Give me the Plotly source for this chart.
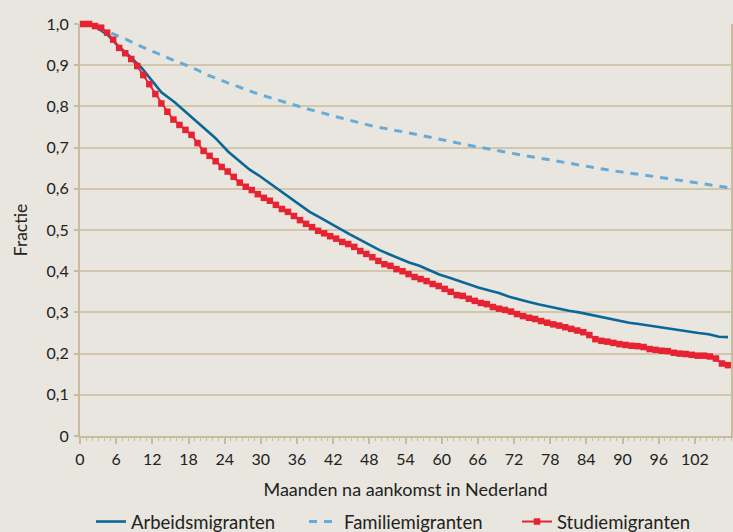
import plotly.graph_objects as go

# ---- data ----
studie_months = [k + 0.5 for k in range(108)]
studie_values = [
    1.000, 1.000, 0.995, 0.991, 0.979, 0.962, 0.942, 0.929, 0.915, 0.898,
    0.876, 0.854, 0.830, 0.807, 0.787, 0.768, 0.755, 0.743, 0.731, 0.711,
    0.692, 0.680, 0.667, 0.653, 0.642, 0.629, 0.615, 0.605, 0.597, 0.587,
    0.578, 0.571, 0.561, 0.551, 0.544, 0.534, 0.524, 0.515, 0.507, 0.498,
    0.492, 0.485, 0.479, 0.471, 0.466, 0.459, 0.449, 0.442, 0.434, 0.425,
    0.417, 0.413, 0.405, 0.400, 0.393, 0.386, 0.381, 0.376, 0.369, 0.364,
    0.357, 0.350, 0.342, 0.340, 0.333, 0.328, 0.323, 0.320, 0.313, 0.309,
    0.306, 0.302, 0.296, 0.291, 0.287, 0.284, 0.279, 0.275, 0.271, 0.268,
    0.264, 0.260, 0.256, 0.252, 0.245, 0.235, 0.231, 0.229, 0.226, 0.223,
    0.221, 0.219, 0.218, 0.216, 0.211, 0.209, 0.207, 0.206, 0.202, 0.200,
    0.199, 0.197, 0.195, 0.195, 0.193, 0.188, 0.176, 0.172,
]

arbeids_months = [
    0.5, 1.5, 2.5, 4.7, 6.3, 8.0, 10.2, 11.9, 13.5, 15.7, 18.5, 20.1, 22.4,
    24.6, 26.5, 28.1, 29.8, 31.5, 33.1, 34.8, 36.4, 38.1, 39.7, 41.4, 43.0,
    44.7, 46.4, 48.0, 49.7, 51.3, 53.0, 54.6, 56.3, 57.9, 59.6, 61.3, 62.9,
    64.6, 66.2, 67.9, 69.5, 71.2, 72.8, 74.5, 76.2, 77.8, 79.5, 81.1, 82.8,
    84.4, 86.1, 87.7, 89.4, 91.1, 92.7, 94.4, 96.0, 97.7, 99.3, 101.0, 102.6,
    104.3, 106.0, 107.5,
]
arbeids_values = [
    1.000, 0.999, 0.994, 0.972, 0.947, 0.925, 0.894, 0.862, 0.834, 0.810,
    0.774, 0.755, 0.724, 0.690, 0.666, 0.647, 0.631, 0.613, 0.595, 0.579,
    0.561, 0.544, 0.531, 0.516, 0.504, 0.490, 0.477, 0.464, 0.451, 0.441,
    0.431, 0.421, 0.413, 0.403, 0.392, 0.384, 0.376, 0.368, 0.360, 0.353,
    0.347, 0.338, 0.331, 0.325, 0.319, 0.314, 0.308, 0.304, 0.300, 0.295,
    0.290, 0.284, 0.280, 0.275, 0.272, 0.268, 0.264, 0.260, 0.257, 0.252,
    0.250, 0.247, 0.241, 0.240,
]

familie_months = [
    0.5, 1.5, 2.5, 4.7, 7.45, 10.2, 13.0, 15.7, 18.5, 21.2, 24.0, 26.8, 29.0,
    32.0, 37.5, 43.0, 48.6, 54.1, 59.6, 65.1, 71.7, 77.3, 82.8, 88.3, 93.8,
    99.3, 104.9, 107.5,
]
familie_values = [
    1.000, 0.999, 0.994, 0.981, 0.964, 0.945, 0.927, 0.911, 0.895, 0.876,
    0.860, 0.844, 0.833, 0.819, 0.795, 0.773, 0.752, 0.737, 0.720, 0.704,
    0.686, 0.672, 0.658, 0.644, 0.633, 0.621, 0.607, 0.603,
]

y_tick_values = [0, 0.1, 0.2, 0.3, 0.4, 0.5, 0.6, 0.7, 0.8, 0.9, 1.0]
y_tick_labels = ["0", "0,1", "0,2", "0,3", "0,4", "0,5", "0,6", "0,7", "0,8", "0,9", "1,0"]
x_tick_values = list(range(0, 108, 6))
x_tick_labels = [str(v) for v in x_tick_values]

# ---- styles ----
BG = "#e8e6de"
GRID = "#d2c6ac"
AXIS = "#c9bb9d"
TXT = "#222222"
FONT = "Lato, 'Open Sans', sans-serif"

fig = go.Figure()
fig.add_trace(go.Scatter(
    x=arbeids_months, y=arbeids_values, mode="lines", name="Arbeidsmigranten",
    line=dict(color="#0b6798", width=2.6), cliponaxis=False,
))
fig.add_trace(go.Scatter(
    x=familie_months, y=familie_values, mode="lines", name="Familiemigranten",
    line=dict(color="#67abd9", width=3, dash="8px,7px"), cliponaxis=False,
))
fig.add_trace(go.Scatter(
    x=studie_months, y=studie_values, mode="lines+markers", name="Studiemigranten",
    line=dict(color="#e52333", width=2),
    marker=dict(symbol="square", size=6.5, color="#e52333"), cliponaxis=False,
))

fig.update_layout(
    width=733, height=532,
    paper_bgcolor=BG, plot_bgcolor=BG,
    margin=dict(l=80, r=2, t=24, b=96, autoexpand=False),
    font=dict(family=FONT, size=16, color=TXT),
    showlegend=True,
    legend=dict(
        orientation="h", xref="container", yref="container",
        x=91 / 733, xanchor="left", y=1 - 522 / 532, yanchor="middle",
        font=dict(size=18.5, color=TXT), entrywidth=168, entrywidthmode="pixels",
        bgcolor="rgba(0,0,0,0)", itemsizing="trace",
    ),
    xaxis=dict(
        range=[0, 108], tickmode="array", tickvals=x_tick_values, ticktext=x_tick_labels,
        showgrid=False, zeroline=False, showline=True, linecolor=AXIS, linewidth=2,
        ticks="outside", ticklen=6, tickwidth=1.5, tickcolor=AXIS,
        minor=dict(dtick=1, tick0=0, ticks="outside", ticklen=3, tickwidth=1, tickcolor=AXIS, showgrid=False),
        title=dict(text="Maanden na aankomst in Nederland", font=dict(size=18), standoff=16),
        tickfont=dict(size=16), ticklabelstandoff=2,
    ),
    yaxis=dict(
        range=[0, 1], tickmode="array", tickvals=y_tick_values, ticktext=y_tick_labels,
        showgrid=True, gridcolor=GRID, gridwidth=1.6, zeroline=False,
        showline=True, linecolor=AXIS, linewidth=2, mirror=True,
        ticks="outside", ticklen=4, tickwidth=1.5, tickcolor=AXIS,
        title=dict(text="Fractie", font=dict(size=17.5), standoff=14),
        tickfont=dict(size=16), ticklabelstandoff=2,
    ),
)

fig.write_html(
    "out.html",
    config={"displayModeBar": False},
    post_script="document.body.style.margin='0';document.body.style.background='#e8e6de';",
)
